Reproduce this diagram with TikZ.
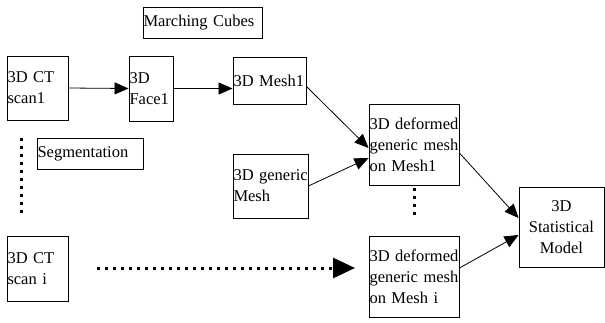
\documentclass[tikz,border=0pt]{standalone}
\usepackage{fontspec}
\setmainfont{Liberation Serif}
\usetikzlibrary{arrows.meta}
\tikzset{
  box/.style={draw, line width=0.9pt, inner xsep=0.5pt, inner ysep=1pt, align=left,
    font=\fontsize{16.5}{21}\selectfont},
  arr/.style={line width=0.8pt, -{Triangle[length=14pt,width=12pt]}},
  dots/.style={line width=3pt, dash pattern=on 3pt off 5pt}
}
\begin{document}
\begin{tikzpicture}[x=1pt, y=-1pt]
    \useasboundingbox (0,0) rectangle (605,322);
    % Draw the boxes of the first scan.
    \node[box, minimum width=119pt, minimum height=31pt, text width=118pt] (cubes) at (202.5,22.5) {Marching Cubes};
    \node[box, minimum width=61pt, minimum height=64pt, text width=60pt] (scanA) at (37.5,88) {3D CT\\scan1};
    \node[box, minimum width=44pt, minimum height=65pt, text width=43pt] (face) at (151,88.5) {3D\\Face1};
    \node[box, minimum width=73pt, minimum height=47pt, text width=72pt] (mesh) at (269.5,80.5) {3D Mesh1};
    \node[box, minimum width=106pt, minimum height=31pt, text width=105pt] (seg) at (90,153.5) {Segmentation};
    \node[box, minimum width=75pt, minimum height=64pt, text width=74pt] (gen) at (270.5,186) {\mbox{3D generic}\\Mesh};
    \node[box, minimum width=90pt, minimum height=81pt, text width=89pt] (defA) at (414,144.5) {\mbox{3D deformed}\\\mbox{generic mesh}\\on Mesh1};
    % Draw the boxes of scan i and the model.
    \node[box, minimum width=61pt, minimum height=65pt, text width=60pt] (scanI) at (37.5,268.5) {3D CT\\scan i};
    \node[box, minimum width=90pt, minimum height=81pt, text width=89pt] (defI) at (414,276.5) {\mbox{3D deformed}\\\mbox{generic mesh}\\on Mesh i};
    \node[box, align=center, minimum width=85pt, minimum height=80pt, text width=84pt] (model) at (561.5,227) {3D\\Statistical\\Model};
    % Draw the arrows between the boxes.
    \draw[arr] (scanA.east) -- (face.west);
    \draw[arr] (face.east) -- (face.east -| mesh.west);
    \draw[arr] ([yshift=-6pt]mesh.east) -- ([yshift=-3.5pt]defA.west);
    \draw[arr] (gen.east) -- ([yshift=-13.5pt]defA.west);
    \draw[arr] ([yshift=-8.5pt]defA.east) -- ([yshift=9pt]model.west);
    \draw[arr] ([yshift=8.5pt]defI.east) -- ([yshift=-8pt]model.west);
    % Draw the dotted gaps between scan 1 and scan i.
    \coordinate (gapTop) at (21,138);
    \coordinate (gapBot) at (21,215);
    \draw[dots] (gapTop) -- (gapBot);
    \draw[dots] ([yshift=-3pt]defA.south) -- ([yshift=21pt]defI.north);
    \coordinate (dotS) at (97,268);
    \coordinate (dotE) at (355,268);
    \draw[dots, -{Triangle[length=22pt,width=20pt]}] (dotS) -- (dotE);
\end{tikzpicture}
\end{document}
